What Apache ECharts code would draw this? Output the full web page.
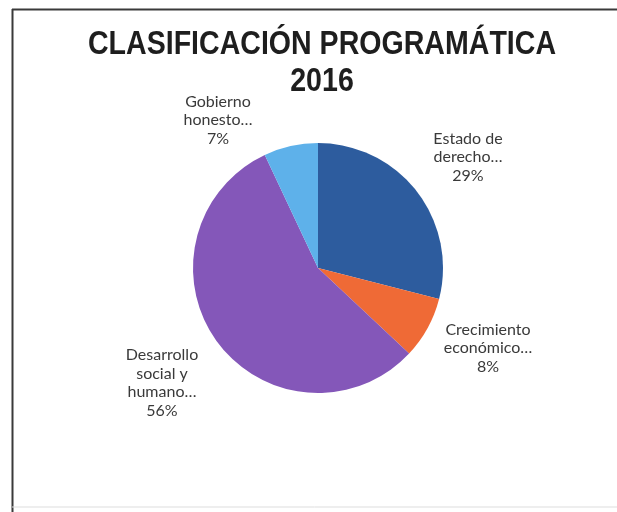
<!DOCTYPE html>
<html>
<head>
<meta charset="utf-8">
<script src="https://cdn.jsdelivr.net/npm/echarts@6/dist/echarts.min.js"></script>
<style>
html,body{margin:0;padding:0;background:#fff;}
#main{width:617px;height:512px;}
</style>
</head>
<body>
<div id="main"></div>
<script>
var titleLines = ['CLASIFICACIÓN PROGRAMÁTICA', '2016'];
var categories = ['Estado de\nderecho…', 'Crecimiento\neconómico…', 'Desarrollo\nsocial y\nhumano…', 'Gobierno\nhonesto…'];
var values = [29, 8, 56, 7];
var colors = ['#2d5c9e', '#ef6a36', '#8457b9', '#5eb1ea'];
var labelAnchors = [[468, 157], [488, 348], [162, 383], [218, 120]];

var titleFont = "bold 34px 'Liberation Sans', Arial, sans-serif";
var chart = echarts.init(document.getElementById('main'));
chart.setOption({
  backgroundColor: '#ffffff',
  animation: false,
  graphic: [
    { type: 'line', shape: { x1: 12.5, y1: 9, x2: 12.5, y2: 512 }, style: { stroke: '#3a3a3a', lineWidth: 2 } },
    { type: 'line', shape: { x1: 12, y1: 9.5, x2: 617, y2: 9.5 }, style: { stroke: '#3a3a3a', lineWidth: 2 } },
    { type: 'line', shape: { x1: 12, y1: 507, x2: 617, y2: 507 }, style: { stroke: '#dddddd', lineWidth: 1 } },
    { type: 'text', x: 322, y: 45, scaleX: 0.84, style: { text: titleLines[0], font: titleFont, fill: '#1e1e1e', textAlign: 'center', textVerticalAlign: 'middle' } },
    { type: 'text', x: 322, y: 82, scaleX: 0.84, style: { text: titleLines[1], font: titleFont, fill: '#1e1e1e', textAlign: 'center', textVerticalAlign: 'middle' } }
  ],
  series: [{
    type: 'pie',
    center: [318, 268],
    radius: 125,
    startAngle: 90,
    clockwise: true,
    data: categories.map(function (c, i) {
      return { name: c, value: values[i], itemStyle: { color: colors[i] } };
    }),
    label: {
      show: true,
      position: 'outside',
      formatter: '{b}\n{d}%',
      fontFamily: "Lato, 'Open Sans', sans-serif",
      fontSize: 16,
      lineHeight: 18.5,
      color: '#3a3a3a',
      align: 'center'
    },
    labelLine: { show: false },
    labelLayout: function (p) {
      var a = labelAnchors[p.dataIndex];
      return { x: a[0], y: a[1], align: 'center', verticalAlign: 'middle' };
    },
    itemStyle: { borderWidth: 0 },
    emphasis: { disabled: true }
  }]
});
</script>
</body>
</html>
